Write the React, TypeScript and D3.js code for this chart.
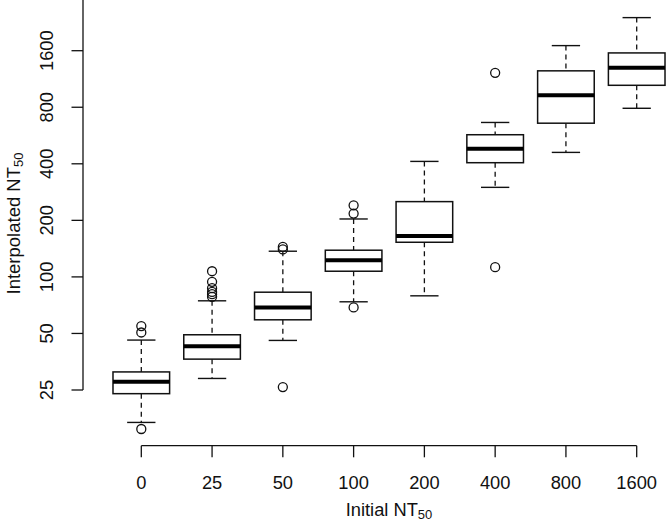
import React from "react";
import * as d3 from "d3";

const categories = ["0", "25", "50", "100", "200", "400", "800", "1600"];
const whiskerLow = [16.8, 28.8, 45.9, 73.7, 79.3, 299.7, 460, 790];
const q1 = [23.9, 36.5, 59.1, 107.2, 152.9, 405.4, 658, 1047];
const median = [27.7, 42.7, 68.8, 122.7, 165.2, 481.3, 927, 1297];
const q3 = [31.2, 49.2, 82.9, 138.7, 251.6, 571.2, 1250, 1557];
const whiskerHigh = [46.1, 74.6, 137, 203.4, 411.9, 663.9, 1703, 2400];
const outliers = [
  [54.7, 50.6, 15.5],
  [107.2, 94.1, 87.1, 83.2, 80.9, 78.3],
  [144.4, 140, 25.9],
  [240.5, 217.2, 68.8],
  [],
  [1220, 112.6],
  [],
  [],
];
const yTicks = [25, 50, 100, 200, 400, 800, 1600];

const W = 666;
const H = 523;
const FONT = "'Liberation Sans', Arial, Helvetica, sans-serif";

export default function App() {
  const x = d3.scalePoint<string>().domain(categories).range([141.3, 636.7]);
  const y = d3.scaleLog().base(2).domain([25, 1600]).range([390, 50.7]);
  const step = x.step();
  const boxW = step * 0.8;
  const capW = boxW * 0.5;
  const axisX = 83;
  const axisY = 445.7;
  const stroke = "#111";

  return (
    <div style={{ position: "fixed", left: 0, top: 0 }}>
      <svg width={W} height={H} style={{ display: "block", background: "#fff" }}>
        <rect x={0} y={0} width={W} height={H} fill="#fff" />
        {/* Y axis */}
        <line x1={axisX} x2={axisX} y1={y(3200)} y2={y(25)} stroke={stroke} strokeWidth={1.3} />
        {yTicks.map((t) => (
          <g key={t}>
            <line x1={axisX} x2={axisX - 11.5} y1={y(t)} y2={y(t)} stroke={stroke} strokeWidth={1.3} />
            <text
              transform={`translate(53,${y(t)}) rotate(-90)`}
              textAnchor="middle"
              fontFamily={FONT}
              fontSize={18.3}
              fill="#111"
            >
              {t}
            </text>
          </g>
        ))}
        <text
          transform={`translate(19.5,223.5) rotate(-90)`}
          textAnchor="middle"
          fontFamily={FONT}
          fontSize={18.5}
          fill="#111"
        >
          Interpolated NT
          <tspan fontSize={13} dy={3}>50</tspan>
        </text>

        {/* X axis */}
        <line x1={x(categories[0])} x2={x(categories[categories.length - 1])} y1={axisY} y2={axisY} stroke={stroke} strokeWidth={1.3} />
        {categories.map((c) => (
          <g key={c}>
            <line x1={x(c)} x2={x(c)} y1={axisY} y2={axisY + 11.6} stroke={stroke} strokeWidth={1.3} />
            <text x={x(c)} y={489.3} textAnchor="middle" fontFamily={FONT} fontSize={18.3} fill="#111">
              {c}
            </text>
          </g>
        ))}
        <text x={389} y={516} textAnchor="middle" fontFamily={FONT} fontSize={18.3} fill="#111">
          Initial NT
          <tspan fontSize={13} dy={3}>50</tspan>
        </text>

        {/* Boxes */}
        {categories.map((c, i) => {
          const cx = x(c) as number;
          return (
            <g key={c}>
              <line x1={cx} x2={cx} y1={y(whiskerHigh[i])} y2={y(q3[i])} stroke={stroke} strokeWidth={1.3} strokeDasharray="5,4" />
              <line x1={cx} x2={cx} y1={y(q1[i])} y2={y(whiskerLow[i])} stroke={stroke} strokeWidth={1.3} strokeDasharray="5,4" />
              <line x1={cx - capW / 2} x2={cx + capW / 2} y1={y(whiskerHigh[i])} y2={y(whiskerHigh[i])} stroke={stroke} strokeWidth={1.4} />
              <line x1={cx - capW / 2} x2={cx + capW / 2} y1={y(whiskerLow[i])} y2={y(whiskerLow[i])} stroke={stroke} strokeWidth={1.4} />
              <rect
                x={cx - boxW / 2}
                y={y(q3[i])}
                width={boxW}
                height={y(q1[i]) - y(q3[i])}
                fill="#fff"
                stroke={stroke}
                strokeWidth={1.5}
              />
              <line x1={cx - boxW / 2} x2={cx + boxW / 2} y1={y(median[i])} y2={y(median[i])} stroke="#000" strokeWidth={4} />
              {outliers[i].map((o, j) => (
                <circle key={j} cx={cx} cy={y(o)} r={4.5} fill="none" stroke={stroke} strokeWidth={1.3} />
              ))}
            </g>
          );
        })}
      </svg>
    </div>
  );
}
